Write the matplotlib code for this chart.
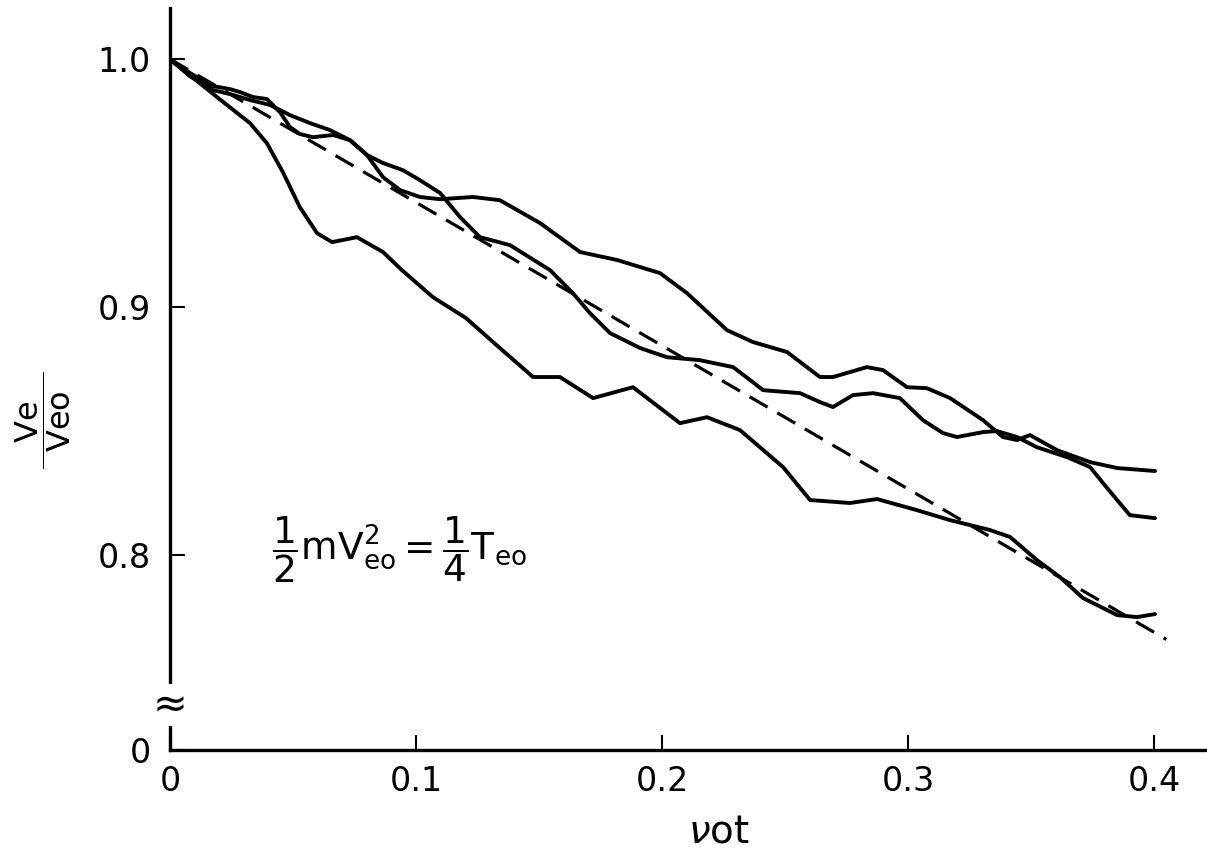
"""
Normalised electron velocity Ve/Veo against collision time nu_o*t
for three runs, with the straight-line (dashed) estimate.
"""

import numpy as np
from matplotlib import pyplot as plt

# INPUT -----------------------
# three runs
t_a  = [0.0, 0.0191, 0.0325, 0.0394, 0.0459, 0.0528, 0.0598, 0.0659, 0.0760, 0.0866,
        0.0943, 0.1069, 0.1203, 0.1341, 0.1476, 0.1585, 0.1720, 0.1882, 0.2073, 0.2183,
        0.2317, 0.2492, 0.2602, 0.2764, 0.2874, 0.3037, 0.3171, 0.3333, 0.3415, 0.3524,
        0.3618, 0.3711, 0.3850, 0.3931, 0.4004]
ve_a = [1.0, 0.9847, 0.9742, 0.9661, 0.9544, 0.9403, 0.9298, 0.9262, 0.9282, 0.9222,
        0.9149, 0.9040, 0.8956, 0.8835, 0.8718, 0.8718, 0.8633, 0.8677, 0.8532, 0.8556,
        0.8504, 0.8355, 0.8222, 0.8210, 0.8226, 0.8181, 0.8141, 0.8101, 0.8073, 0.7980,
        0.7911, 0.7827, 0.7758, 0.7750, 0.7762]

t_b  = [0.0, 0.0081, 0.0175, 0.0244, 0.0325, 0.0407, 0.0488, 0.0569, 0.0650, 0.0732,
        0.0801, 0.0866, 0.0947, 0.1016, 0.1098, 0.1179, 0.1260, 0.1382, 0.1545, 0.1638,
        0.1707, 0.1789, 0.1911, 0.2020, 0.2154, 0.2289, 0.2358, 0.2411, 0.2561, 0.2642,
        0.2695, 0.2776, 0.2858, 0.2967, 0.3061, 0.3142, 0.3199, 0.3305, 0.3362, 0.3443,
        0.3524, 0.3646, 0.3740, 0.3793, 0.3850, 0.3902, 0.4004]
ve_b = [1.0, 0.9931, 0.9875, 0.9859, 0.9835, 0.9815, 0.9774, 0.9742, 0.9714, 0.9673,
        0.9613, 0.9581, 0.9552, 0.9512, 0.9460, 0.9363, 0.9282, 0.9250, 0.9149, 0.9056,
        0.8976, 0.8895, 0.8835, 0.8798, 0.8786, 0.8758, 0.8706, 0.8665, 0.8653, 0.8617,
        0.8597, 0.8645, 0.8653, 0.8633, 0.8544, 0.8492, 0.8476, 0.8496, 0.8500, 0.8476,
        0.8435, 0.8395, 0.8355, 0.8290, 0.8222, 0.8161, 0.8149]

t_c  = [0.0, 0.0081, 0.0175, 0.0244, 0.0285, 0.0337, 0.0394, 0.0447, 0.0488, 0.0528,
        0.0581, 0.0663, 0.0732, 0.0801, 0.0866, 0.0935, 0.1016, 0.1098, 0.1232, 0.1341,
        0.1504, 0.1667, 0.1817, 0.1992, 0.2102, 0.2264, 0.2370, 0.2508, 0.2642, 0.2695,
        0.2833, 0.2898, 0.2996, 0.3077, 0.3171, 0.3305, 0.3386, 0.3443, 0.3496, 0.3606,
        0.3740, 0.3850, 0.4004]
ve_c = [1.0, 0.9944, 0.9891, 0.9879, 0.9867, 0.9847, 0.9839, 0.9786, 0.9726, 0.9698,
        0.9685, 0.9694, 0.9673, 0.9613, 0.9524, 0.9472, 0.9444, 0.9435, 0.9444, 0.9431,
        0.9339, 0.9222, 0.9190, 0.9137, 0.9056, 0.8907, 0.8859, 0.8819, 0.8718, 0.8718,
        0.8758, 0.8746, 0.8677, 0.8673, 0.8633, 0.8544, 0.8476, 0.8464, 0.8484, 0.8423,
        0.8375, 0.8351, 0.8339]

# straight-line estimate
t_fit  = [0.0, 0.405]
ve_fit = [1.0, 0.766]

# axes
y_zero      = 0.7214                      # where the broken axis puts "0"
y_break     = 0.7395
xticks      = [0.0, 0.1, 0.2, 0.3, 0.4]
xticklabels = ['0', '0.1', '0.2', '0.3', '0.4']
yticks      = [y_zero, 0.8, 0.9, 1.0]
yticklabels = ['0', '0.8', '0.9', '1.0']
# -----------------------------

plt.rcParams['font.family']      = 'DejaVu Sans'
plt.rcParams['mathtext.fontset'] = 'dejavusans'

fontsize = 24
lw       = 2.8
fig = plt.figure(figsize=(12.07, 8.52), dpi=100)
ax  = fig.add_axes([0.1408, 0.1197, 0.8575, 0.8709])

for t, ve in [(t_a, ve_a), (t_b, ve_b), (t_c, ve_c)]:
    ax.plot(t, ve, color='black', lw=lw, solid_capstyle='round', solid_joinstyle='round')
ax.plot(t_fit, ve_fit, color='black', lw=2.3, dashes=(6.5, 3.5))

ax.set_xlim([0.0, 0.4207])
ax.set_ylim([y_zero, 1.0206])

ax.spines['top'].set_visible(False)
ax.spines['right'].set_visible(False)
ax.spines['left'].set_linewidth(2.4)
ax.spines['bottom'].set_linewidth(2.4)

ax.set_xticks(xticks)
ax.set_xticklabels(xticklabels, fontsize=fontsize)
ax.set_yticks(yticks)
ax.set_yticklabels(yticklabels, fontsize=fontsize)
ax.tick_params(axis='both', direction='in', length=11, width=1.5, pad=14)
ax.tick_params(axis='x', pad=11)

# axis break on the ordinate
ax.text(0.0, y_break, '≈', fontsize=30, ha='center', va='center',
        bbox=dict(facecolor='white', edgecolor='none', pad=0.0))

ax.set_xlabel(r'$\nu$ot', fontsize=28)
ax.xaxis.label.set_va('center')
ax.xaxis.set_label_coords(0.53, -0.11)
ax.set_ylabel(r'$\dfrac{\;\mathrm{Ve}\;}{\;\;\mathrm{Veo}\;\;}$', fontsize=23, rotation=90)
ax.yaxis.label.set_va('center')
ax.yaxis.set_label_coords(-0.123, 0.445)

ax.text(0.0415, 0.802,
        r'$\dfrac{1}{2}\mathrm{mV}_{\mathrm{eo}}^{2}=\dfrac{1}{4}\mathrm{T}_{\mathrm{eo}}$',
        fontsize=27, ha='left', va='center')

plt.savefig('out.png', dpi=100)
